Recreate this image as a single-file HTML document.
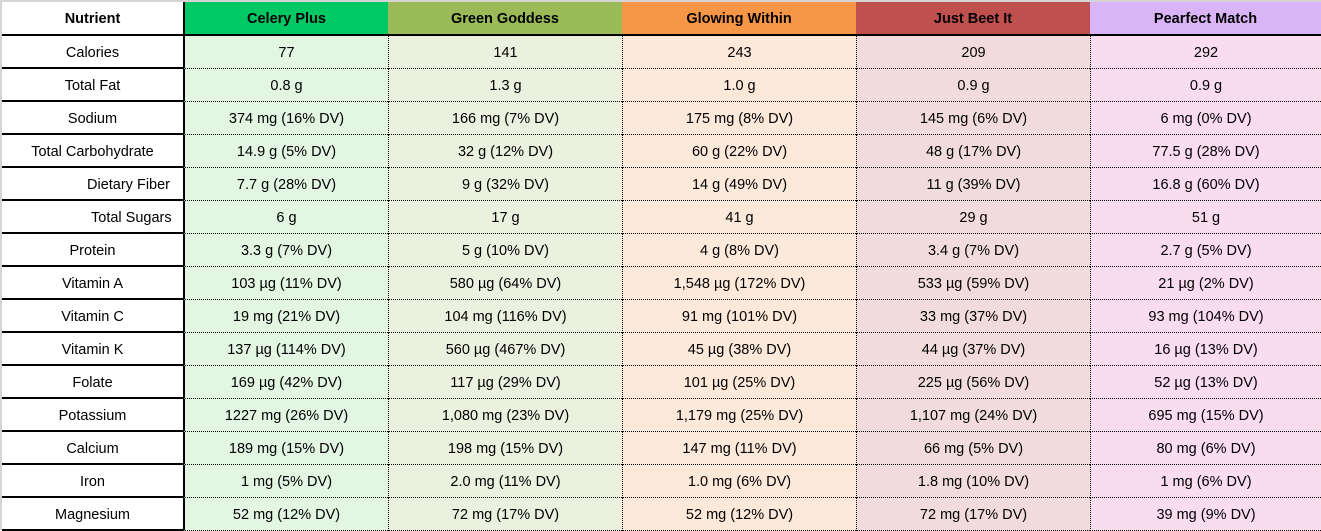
<!DOCTYPE html>
<html><head><style>
body{margin:0;width:1321px;height:530px;background:#fff;overflow:hidden;font-family:"Liberation Sans",sans-serif;font-size:14.5px;color:#000}
.c{position:absolute;display:flex;align-items:center;justify-content:center;box-sizing:border-box;white-space:nowrap;padding-top:2px}
</style></head><body>
<div style="position:absolute;left:0;top:0;width:1321px;height:2px;background:#d4d4d4"></div>
<div style="position:absolute;left:0;top:0;width:2px;height:530px;background:#d4d4d4"></div>
<div id="t"></div>
<script>
const xs=[2,183,388,622,856,1090,1321];
const hb=['#fff','#00c865','#9bbb59','#f79646','#c0504d','#d9b5f7'];
const db=['#fff','#e2f6e2','#ebf1de','#fde9d9','#f2dcdb','#f9dcee'];
const H=['Nutrient','Celery Plus','Green Goddess','Glowing Within','Just Beet It','Pearfect Match'];
const R=[
['Calories','77','141','243','209','292'],
['Total Fat','0.8 g','1.3 g','1.0 g','0.9 g','0.9 g'],
['Sodium','374 mg (16% DV)','166 mg (7% DV)','175 mg (8% DV)','145 mg (6% DV)','6 mg (0% DV)'],
['Total Carbohydrate','14.9 g (5% DV)','32 g (12% DV)','60 g (22% DV)','48 g (17% DV)','77.5 g (28% DV)'],
['Dietary Fiber','7.7 g (28% DV)','9 g (32% DV)','14 g (49% DV)','11 g (39% DV)','16.8 g (60% DV)'],
['Total Sugars','6 g','17 g','41 g','29 g','51 g'],
['Protein','3.3 g (7% DV)','5 g (10% DV)','4 g (8% DV)','3.4 g (7% DV)','2.7 g (5% DV)'],
['Vitamin A','103 µg (11% DV)','580 µg (64% DV)','1,548 µg (172% DV)','533 µg (59% DV)','21 µg (2% DV)'],
['Vitamin C','19 mg (21% DV)','104 mg (116% DV)','91 mg (101% DV)','33 mg (37% DV)','93 mg (104% DV)'],
['Vitamin K','137 µg (114% DV)','560 µg (467% DV)','45 µg (38% DV)','44 µg (37% DV)','16 µg (13% DV)'],
['Folate','169 µg (42% DV)','117 µg (29% DV)','101 µg (25% DV)','225 µg (56% DV)','52 µg (13% DV)'],
['Potassium','1227 mg (26% DV)','1,080 mg (23% DV)','1,179 mg (25% DV)','1,107 mg (24% DV)','695 mg (15% DV)'],
['Calcium','189 mg (15% DV)','198 mg (15% DV)','147 mg (11% DV)','66 mg (5% DV)','80 mg (6% DV)'],
['Iron','1 mg (5% DV)','2.0 mg (11% DV)','1.0 mg (6% DV)','1.8 mg (10% DV)','1 mg (6% DV)'],
['Magnesium','52 mg (12% DV)','72 mg (17% DV)','52 mg (12% DV)','72 mg (17% DV)','39 mg (9% DV)']];
let h='';
for(let j=0;j<6;j++){
 h+=`<div class="c" style="left:${xs[j]}px;top:2px;width:${xs[j+1]-xs[j]}px;height:34px;background:${hb[j]};font-weight:bold;border-bottom:2px solid #000;${j==1?'border-left:2px solid #000;':''}">${H[j]}</div>`;
}
R.forEach((r,i)=>{
 const y=36+i*33;
 for(let j=0;j<6;j++){
  let st=`left:${xs[j]}px;top:${y}px;width:${xs[j+1]-xs[j]}px;height:33px;background:${db[j]};`;
  if(j==0){st+='border-bottom:2px solid #000;';if(i==4||i==5)st+='justify-content:flex-start;padding-left:'+(i==4?85:89)+'px;';}
  else st+='border-bottom:1px dotted #000;'+(j==1?'border-left:2px solid #000;':'border-left:1px dotted #000;');
  h+=`<div class="c" style="${st}">${r[j]}</div>`;
 }
});
document.getElementById('t').innerHTML=h;
</script>
</body></html>
